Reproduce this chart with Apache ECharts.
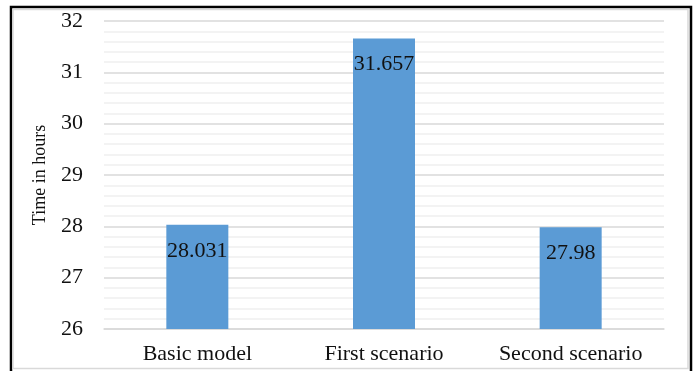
<!DOCTYPE html>
<html>
<head>
<meta charset="utf-8">
<script src="https://cdn.jsdelivr.net/npm/echarts@6/dist/echarts.min.js"></script>
<style>
  html, body { margin: 0; padding: 0; background: #fff; }
  #main { width: 697px; height: 371px; }
</style>
</head>
<body>
<div id="main"></div>
<script>
// chart data
var categories = ['Basic model', 'First scenario', 'Second scenario'];
var hours = [28.031, 31.657, 27.98];
var yTicks = [26, 27, 28, 29, 30, 31, 32];

var serif = '"Liberation Serif", "Times New Roman", serif';
var myChart = echarts.init(document.getElementById('main'));

var option = {
    animation: false,
    backgroundColor: '#fff',
    grid: {left: 104, right: 33, top: 21, bottom: 42},
    graphic: [
        // outer frame (black) and inner light border
        {type: 'rect', shape: {x: 11, y: 7, width: 680, height: 380}, style: {fill: 'none', stroke: '#000', lineWidth: 2.5}, silent: true},
        {type: 'rect', shape: {x: 13, y: 9.5, width: 675, height: 359}, style: {fill: 'none', stroke: '#d9d9d9', lineWidth: 1.5}, silent: true}
    ],
    xAxis: {
        type: 'category',
        data: categories,
        axisLine: {lineStyle: {color: '#d9d9d9', width: 1.5}},
        axisTick: {show: false},
        axisLabel: {color: '#111', fontFamily: serif, fontSize: 22, margin: 14}
    },
    yAxis: {
        type: 'value',
        min: yTicks[0],
        max: yTicks[yTicks.length - 1],
        interval: 1,
        name: 'Time in hours',
        nameLocation: 'middle',
        nameGap: 55,
        nameTextStyle: {color: '#111', fontFamily: serif, fontSize: 18},
        axisLine: {show: false},
        axisTick: {show: false},
        axisLabel: {color: '#111', fontFamily: serif, fontSize: 22, margin: 21},
        splitLine: {lineStyle: {color: '#d9d9d9', width: 1.5}},
        minorTick: {show: false, splitNumber: 5},
        minorSplitLine: {show: true, lineStyle: {color: '#efefef', width: 1.5}}
    },
    series: [{
        type: 'bar',
        data: hours,
        barWidth: 62,
        itemStyle: {color: '#5b9bd5'},
        label: {
            show: true,
            position: 'insideTop',
            distance: 15,
            color: '#111',
            fontFamily: serif,
            fontSize: 22,
            formatter: function (p) {
                return String(p.value);
            }
        }
    }]
};
myChart.setOption(option);
</script>
</body>
</html>
